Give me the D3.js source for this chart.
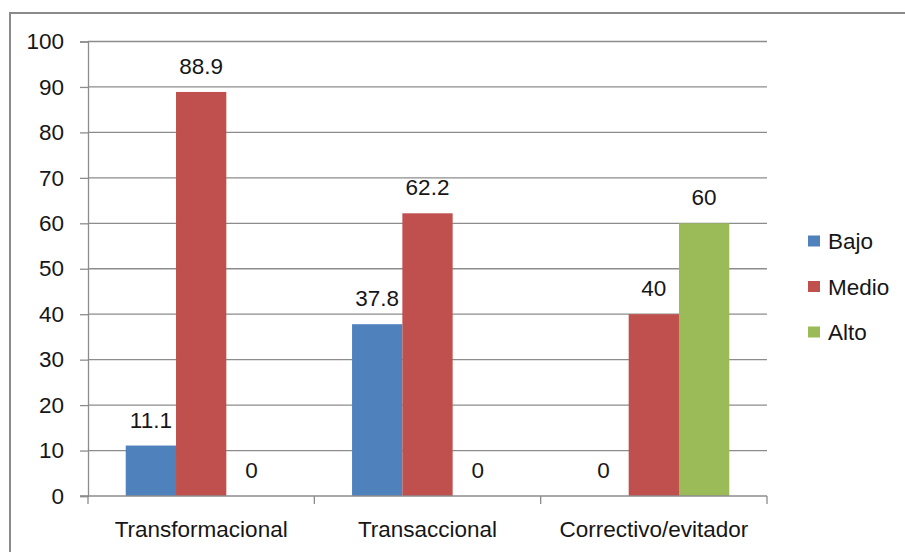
<!DOCTYPE html>
<html>
<head>
<meta charset="utf-8">
<script src="https://cdn.jsdelivr.net/npm/d3@7"></script>
<style>
  html, body { margin: 0; padding: 0; background: #fff; }
  svg { display: block; }
  text { font-family: "Liberation Sans", Arial, sans-serif; fill: #161616; }
</style>
</head>
<body>
<svg id="chart" width="905" height="552"></svg>
<script>
// Leadership style categories and level series
const categories = ["Transformacional", "Transaccional", "Correctivo/evitador"];
const seriesNames = ["Bajo", "Medio", "Alto"];
const bajo  = [11.1, 37.8, 0];
const medio = [88.9, 62.2, 40];
const alto  = [0, 0, 60];
const yTicks = [0, 10, 20, 30, 40, 50, 60, 70, 80, 90, 100];
const colors = ["#4F81BD", "#C0504D", "#9BBB59"];

const seriesValues = [bajo, medio, alto];
const rows = categories.map((c, i) => ({
  category: c,
  values: seriesNames.map((s, j) => ({ series: s, value: seriesValues[j][i] }))
}));

const svg = d3.select("#chart");
const fontSize = 22.5;

// outer chart frame
svg.append("rect")
  .attr("x", 10).attr("y", 13)
  .attr("width", 905).attr("height", 560)
  .attr("fill", "none")
  .attr("stroke", "#8a8a8a")
  .attr("stroke-width", 2);

const plot = { left: 88, right: 767, top: 41.5, bottom: 496 };

const x0 = d3.scaleBand().domain(categories).range([plot.left, plot.right]).padding(0);
const step = x0.step();
const x1 = d3.scaleBand().domain(seriesNames)
  .range([step * 1.5 / 9, step * (1 - 1.5 / 9)]).padding(0);
const y = d3.scaleLinear().domain([0, 100]).range([plot.bottom, plot.top]);
const color = d3.scaleOrdinal().domain(seriesNames).range(colors);

// horizontal gridlines
svg.append("g")
  .selectAll("line")
  .data(yTicks.filter(t => t > 0))
  .join("line")
  .attr("x1", plot.left).attr("x2", plot.right)
  .attr("y1", d => y(d)).attr("y2", d => y(d))
  .attr("stroke", "#8c8c8c").attr("stroke-width", 1.3);

// y axis
const yAxis = svg.append("g")
  .attr("transform", `translate(${plot.left},0)`)
  .call(d3.axisLeft(y).tickValues(yTicks).tickSize(8).tickPadding(16).tickFormat(d3.format("d")));
yAxis.select(".domain").attr("stroke", "#8c8c8c").attr("stroke-width", 1.3);
yAxis.selectAll(".tick line").attr("stroke", "#8c8c8c").attr("stroke-width", 1.3);
yAxis.selectAll(".tick text")
  .attr("font-size", fontSize)
  .attr("font-family", "Liberation Sans, Arial, sans-serif")
  .attr("fill", "#161616");

// bars
const groups = svg.append("g")
  .selectAll("g")
  .data(rows)
  .join("g")
  .attr("transform", d => `translate(${x0(d.category)},0)`);

groups.selectAll("rect")
  .data(d => d.values)
  .join("rect")
  .attr("x", d => x1(d.series))
  .attr("width", x1.bandwidth())
  .attr("y", d => y(d.value))
  .attr("height", d => y(0) - y(d.value))
  .attr("fill", d => color(d.series));

// value labels
groups.selectAll("text.value")
  .data(d => d.values)
  .join("text")
  .attr("class", "value")
  .attr("x", d => x1(d.series) + x1.bandwidth() / 2)
  .attr("y", d => y(d.value) - 18)
  .attr("text-anchor", "middle")
  .attr("font-size", fontSize)
  .text(d => String(d.value));

// x axis with category boundary ticks
const xAxisG = svg.append("g");
xAxisG.append("line")
  .attr("x1", plot.left - 8).attr("x2", plot.right)
  .attr("y1", plot.bottom).attr("y2", plot.bottom)
  .attr("stroke", "#8c8c8c").attr("stroke-width", 1.3);
const boundaries = categories.map(c => x0(c)).concat([x0(categories[categories.length - 1]) + step]);
xAxisG.selectAll("line.bound")
  .data(boundaries)
  .join("line")
  .attr("class", "bound")
  .attr("x1", d => d).attr("x2", d => d)
  .attr("y1", plot.bottom).attr("y2", plot.bottom + 8)
  .attr("stroke", "#8c8c8c").attr("stroke-width", 1.3);
xAxisG.selectAll("text")
  .data(categories)
  .join("text")
  .attr("x", d => x0(d) + step / 2)
  .attr("y", 537)
  .attr("text-anchor", "middle")
  .attr("font-size", fontSize)
  .text(d => d);

// legend
const legend = svg.append("g")
  .selectAll("g")
  .data(seriesNames)
  .join("g")
  .attr("transform", (d, i) => `translate(808,${241 + i * 45.5})`);
legend.append("rect")
  .attr("x", 0).attr("y", -5.5)
  .attr("width", 12).attr("height", 11)
  .attr("fill", d => color(d));
legend.append("text")
  .attr("x", 20).attr("y", 0)
  .attr("dy", "0.36em")
  .attr("font-size", fontSize)
  .text(d => d);
</script>
</body>
</html>
